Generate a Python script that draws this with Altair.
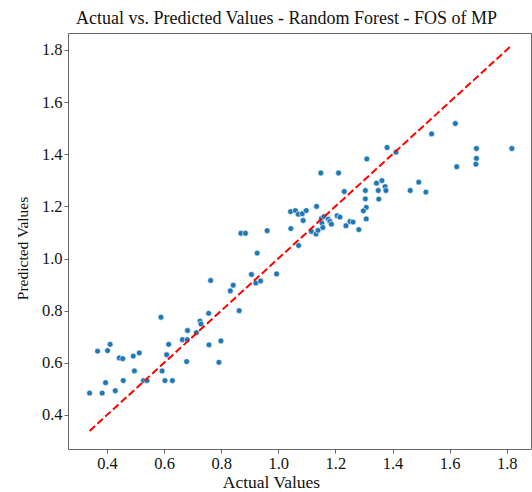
import altair as alt
import pandas as pd

actual = [
    0.339, 0.383, 0.429, 0.395, 0.457, 0.528, 0.540, 0.603, 0.629, 0.496,
    0.593, 0.367, 0.402, 0.411, 0.443, 0.455, 0.492, 0.513, 0.609, 0.616,
    0.589, 0.664, 0.681, 0.682, 0.713, 0.726, 0.729, 0.756, 0.763, 0.832,
    0.842, 0.863, 0.757, 0.799, 0.679, 0.792, 0.906, 0.921, 0.938, 0.994,
    0.869, 0.885, 0.961, 0.926, 1.044, 1.071, 1.043, 1.060, 1.070, 1.084,
    1.098, 1.087, 1.134, 1.116, 1.132, 1.139, 1.151, 1.160, 1.153, 1.175,
    1.181, 1.186, 1.156, 1.206, 1.216, 1.237, 1.231, 1.251, 1.262, 1.149,
    1.211, 1.310, 1.381, 1.412, 1.492, 1.517, 1.462, 1.344, 1.363, 1.350,
    1.374, 1.377, 1.305, 1.305, 1.352, 1.308, 1.298, 1.308, 1.282, 1.620,
    1.537, 1.694, 1.818, 1.694, 1.692, 1.625,
]
predicted = [
    0.484, 0.484, 0.493, 0.524, 0.532, 0.532, 0.532, 0.532, 0.532, 0.569,
    0.569, 0.645, 0.647, 0.671, 0.619, 0.616, 0.626, 0.638, 0.631, 0.671,
    0.775, 0.689, 0.689, 0.724, 0.716, 0.760, 0.749, 0.790, 0.916, 0.876,
    0.898, 0.800, 0.669, 0.684, 0.605, 0.602, 0.939, 0.906, 0.914, 0.941,
    1.097, 1.097, 1.107, 1.021, 1.115, 1.050, 1.180, 1.184, 1.170, 1.172,
    1.184, 1.146, 1.200, 1.104, 1.094, 1.108, 1.154, 1.161, 1.136, 1.151,
    1.142, 1.132, 1.119, 1.164, 1.159, 1.126, 1.257, 1.142, 1.140, 1.328,
    1.328, 1.382, 1.426, 1.408, 1.293, 1.255, 1.261, 1.289, 1.299, 1.261,
    1.276, 1.261, 1.261, 1.229, 1.228, 1.196, 1.183, 1.152, 1.111, 1.518,
    1.478, 1.422, 1.422, 1.384, 1.362, 1.352,
]
tick_values = [0.4, 0.6, 0.8, 1.0, 1.2, 1.4, 1.6, 1.8]

df = pd.DataFrame({"actual": actual, "predicted": predicted})
lo, hi = min(actual), max(actual)
line_df = pd.DataFrame({"actual": [lo, hi], "predicted": [lo, hi]})

FONT = "Liberation Serif"
GRAY = "#666666"

x_enc = alt.X(
    "actual:Q",
    scale=alt.Scale(domain=[0.2634, 1.8851], nice=False, zero=False),
    axis=alt.Axis(
        values=tick_values, format=".1f", title="Actual Values",
        titleX=203, titleY=38, titleAlign="center", titleBaseline="alphabetic",
        titleFontSize=17.5,
    ),
)
y_enc = alt.Y(
    "predicted:Q",
    scale=alt.Scale(domain=[0.2696, 1.865], nice=False, zero=False),
    axis=alt.Axis(
        values=tick_values, format=".1f", title="Predicted Values",
        titleX=-46, titleY=215, titleAngle=270, titleAlign="center",
        titleBaseline="middle", titleFontSize=15.5,
    ),
)

points = alt.Chart(df).mark_circle(
    size=34, color="#1f77b4", opacity=1, stroke="white", strokeWidth=0.6
).encode(x=x_enc, y=y_enc)

line = alt.Chart(line_df).mark_line(
    color="#ff0000", strokeWidth=2, strokeDash=[7.4, 3.2], clip=True
).encode(x="actual:Q", y="predicted:Q")

chart = (
    alt.layer(points, line)
    .properties(
        width=463,
        height=416,
        autosize=alt.AutoSizeParams(type="none"),
        padding={"left": 68, "top": 33, "right": 1, "bottom": 43},
        title=alt.TitleParams(
            text="Actual vs. Predicted Values - Random Forest - FOS of MP",
            font=FONT, fontSize=18, fontWeight="normal", color="#111111",
            anchor="middle", dx=-13, dy=15, offset=6, baseline="alphabetic",
        ),
    )
    .configure(background="white")
    .configure_view(stroke=GRAY, strokeWidth=1)
    .configure_axis(
        domain=False, grid=False, ticks=True, tickColor=GRAY, tickSize=4,
        tickWidth=1, labelFont=FONT, labelFontSize=16.5, labelColor="#111111",
        titleFont=FONT, titleFontWeight="normal", titleColor="#111111",
        labelPadding=2,
    )
)

chart.save("out.html", embed_options={"renderer": "svg", "actions": False})
